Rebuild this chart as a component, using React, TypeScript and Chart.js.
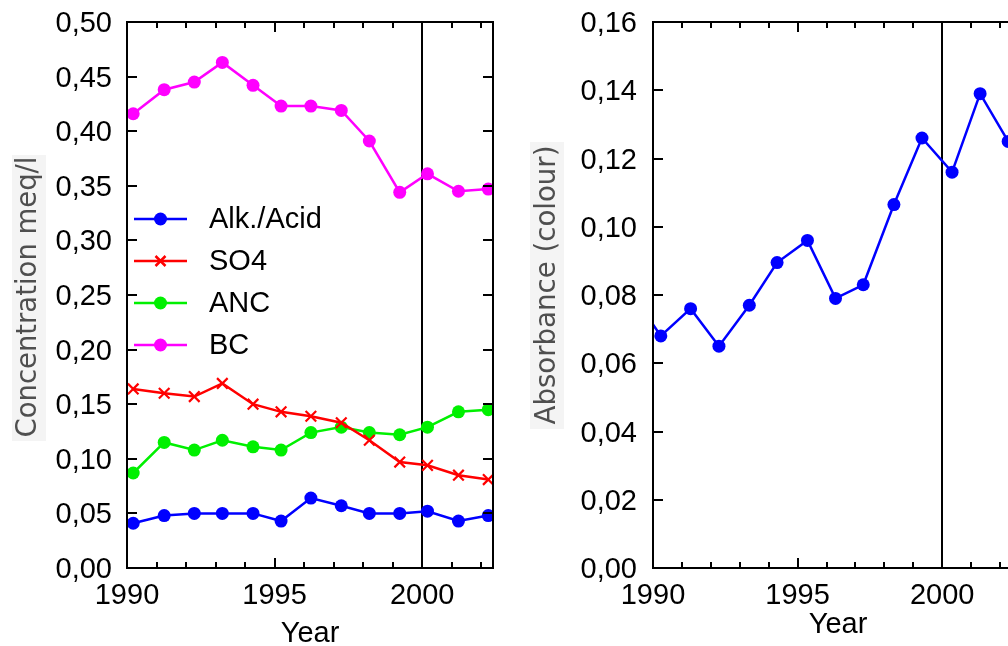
import React, { useEffect, useRef } from 'react';
import { Chart, registerables } from 'chart.js';

Chart.register(...registerables);

// ---------- data ----------
const leftYears = [1990.21, 1991.26, 1992.28, 1993.23, 1994.27, 1995.22, 1996.23, 1997.26, 1998.21, 1999.24, 2000.18, 2001.23, 2002.24];
const alkAcid = [0.041, 0.048, 0.050, 0.050, 0.050, 0.043, 0.064, 0.057, 0.050, 0.050, 0.052, 0.043, 0.048];
const so4 = [0.164, 0.160, 0.157, 0.169, 0.150, 0.143, 0.139, 0.133, 0.117, 0.097, 0.094, 0.085, 0.081];
const anc = [0.087, 0.115, 0.108, 0.117, 0.111, 0.108, 0.124, 0.129, 0.124, 0.122, 0.129, 0.143, 0.145];
const bc = [0.416, 0.438, 0.445, 0.463, 0.442, 0.423, 0.423, 0.419, 0.391, 0.344, 0.361, 0.345, 0.347];

const rightYears = [1989.3, 1990.27, 1991.3, 1992.28, 1993.33, 1994.29, 1995.34, 1996.31, 1997.27, 1998.33, 1999.3, 2000.34, 2001.31, 2002.28];
const absorbance = [0.080, 0.068, 0.076, 0.065, 0.077, 0.0895, 0.096, 0.079, 0.083, 0.1065, 0.126, 0.116, 0.139, 0.125];

const labelledYears = [1990, 1995, 2000];
const referenceYear = 2000;
const leftTitle = 'Concentration meq/l';
const rightTitle = 'Absorbance (colour)';
const xTitle = 'Year';

// ---------- helpers ----------
const FONT = '"Liberation Sans", Arial, sans-serif';
const TITLE_FONT = '"DejaVu Sans", Verdana, sans-serif';
const toXY = (xs: number[], ys: number[]) => xs.map((x, i) => ({ x, y: ys[i] }));
const comma = (v: number, d: number) => v.toFixed(d).replace('.', ',');
const isLabelled = (v: number) => labelledYears.some((y) => Math.abs(y - v) < 1e-6);

const framePlugin = {
  id: 'frame',
  beforeDatasetsDraw(chart: any) {
    const { ctx, chartArea } = chart;
    const px = Math.round(chart.scales.x.getPixelForValue(referenceYear));
    ctx.save();
    ctx.strokeStyle = '#000';
    ctx.lineWidth = 2;
    ctx.beginPath();
    ctx.moveTo(px, chartArea.top);
    ctx.lineTo(px, chartArea.bottom);
    ctx.stroke();
    ctx.restore();
  },
  afterDatasetsDraw(chart: any) {
    const { ctx, chartArea } = chart;
    const left = Math.round(chartArea.left);
    const right = Math.round(chartArea.right);
    const top = Math.round(chartArea.top);
    const bottom = Math.round(chartArea.bottom);
    const xs = chart.scales.x;
    const ys = chart.scales.y;
    ctx.save();
    ctx.strokeStyle = '#000';
    ctx.lineWidth = 2;
    ctx.strokeRect(left, top, right - left, bottom - top);
    ctx.beginPath();
    xs.ticks.forEach((t: any) => {
      const px = Math.round(xs.getPixelForValue(t.value));
      const len = Math.abs(t.value % 5) < 1e-6 ? 10 : 6;
      ctx.moveTo(px, bottom);
      ctx.lineTo(px, bottom - len);
      ctx.moveTo(px, top);
      ctx.lineTo(px, top + len);
    });
    ys.ticks.forEach((t: any) => {
      const py = Math.round(ys.getPixelForValue(t.value));
      ctx.moveTo(left, py);
      ctx.lineTo(left + 10, py);
      ctx.moveTo(right, py);
      ctx.lineTo(right - 10, py);
    });
    ctx.stroke();
    ctx.restore();
  },
};

const titlesPlugin = {
  id: 'titles',
  afterDraw(chart: any, _a: any, opts: any) {
    const ctx = chart.ctx;
    ctx.save();
    const yt = opts.yTitle;
    if (yt) {
      ctx.fillStyle = '#f4f4f4';
      ctx.fillRect(yt.box[0], yt.box[1], yt.box[2], yt.box[3]);
      ctx.font = `${yt.size}px ${TITLE_FONT}`;
      const w = ctx.measureText(yt.text).width;
      const k = yt.len / w;
      ctx.translate(yt.x, yt.y);
      ctx.rotate(-Math.PI / 2);
      ctx.scale(k, 1);
      ctx.fillStyle = '#4f4f4f';
      ctx.textAlign = 'center';
      ctx.textBaseline = 'middle';
      ctx.fillText(yt.text, 0, 0);
      ctx.setTransform(1, 0, 0, 1, 0, 0);
    }
    const xt = opts.xTitle;
    if (xt) {
      ctx.font = `${xt.size}px ${FONT}`;
      ctx.fillStyle = '#000';
      ctx.textAlign = 'center';
      ctx.textBaseline = 'alphabetic';
      ctx.fillText(xt.text, xt.x, xt.y);
    }
    ctx.restore();
  },
};

const legendPlugin = {
  id: 'inLegend',
  afterDraw(chart: any, _a: any, opts: any) {
    if (!opts || !opts.show) return;
    const ctx = chart.ctx;
    ctx.save();
    chart.data.datasets.forEach((ds: any, i: number) => {
      const y = opts.y + i * opts.gap;
      const x0 = opts.x;
      const x1 = opts.x + opts.lineLen;
      const cx = (x0 + x1) / 2;
      ctx.strokeStyle = ds.borderColor;
      ctx.lineWidth = 2.5;
      ctx.beginPath();
      ctx.moveTo(x0, y);
      ctx.lineTo(x1, y);
      ctx.stroke();
      if (ds.pointStyle === 'crossRot') {
        const r = 5;
        ctx.beginPath();
        ctx.moveTo(cx - r, y - r);
        ctx.lineTo(cx + r, y + r);
        ctx.moveTo(cx - r, y + r);
        ctx.lineTo(cx + r, y - r);
        ctx.stroke();
      } else {
        ctx.fillStyle = ds.pointBackgroundColor;
        ctx.beginPath();
        ctx.arc(cx, y, 6.5, 0, Math.PI * 2);
        ctx.fill();
      }
      ctx.fillStyle = '#000';
      ctx.font = `29px ${FONT}`;
      ctx.textAlign = 'left';
      ctx.textBaseline = 'middle';
      ctx.fillText(ds.label, opts.textX, y + 1);
    });
    ctx.restore();
  },
};

function lineDs(label: string, xs: number[], ys: number[], color: string, style: string = 'circle') {
  return {
    label,
    data: toXY(xs, ys),
    borderColor: color,
    backgroundColor: color,
    pointBackgroundColor: color,
    pointBorderColor: color,
    borderWidth: 2.5,
    pointStyle: style,
    pointRadius: style === 'crossRot' ? 7.5 : 6.5,
    pointBorderWidth: style === 'crossRot' ? 2.2 : 0,
    tension: 0,
    fill: false,
  };
}

function makeOptions(cfg: any) {
  return {
    responsive: false,
    animation: false,
    events: [],
    layout: { padding: { top: 22, right: 17, left: 0, bottom: 0 } },
    plugins: {
      legend: { display: false },
      tooltip: { enabled: false },
      titles: { yTitle: cfg.yTitle, xTitle: cfg.xTitle },
      inLegend: cfg.legend || { show: false },
    },
    scales: {
      x: {
        type: 'linear',
        min: 1990,
        max: cfg.xMax,
        grid: { display: false, drawTicks: false },
        border: { display: false },
        ticks: {
          stepSize: 1,
          includeBounds: false,
          autoSkip: false,
          maxRotation: 0,
          padding: 11,
          color: '#000',
          font: { size: 29, family: FONT },
          callback: (v: number) => (isLabelled(v) ? String(Math.round(v)) : ''),
        },
        afterFit: (s: any) => {
          s.height = 78;
          s.paddingLeft = 0;
          s.paddingRight = 0;
        },
      },
      y: {
        type: 'linear',
        min: 0,
        max: cfg.yMax,
        grid: { display: false, drawTicks: false },
        border: { display: false },
        ticks: {
          stepSize: cfg.yStep,
          padding: cfg.yPad,
          color: '#000',
          labelOffset: 2,
          font: { size: 29, family: FONT },
          callback: (v: number) => comma(v, 2),
        },
        afterFit: (s: any) => {
          s.width = cfg.yWidth;
          s.paddingTop = 0;
          s.paddingBottom = 0;
        },
      },
    },
  };
}

export default function App() {
  const leftRef = useRef<HTMLCanvasElement>(null);
  const rightRef = useRef<HTMLCanvasElement>(null);

  useEffect(() => {
    const left = new Chart(leftRef.current as HTMLCanvasElement, {
      type: 'line',
      data: {
        datasets: [
          lineDs('Alk./Acid', leftYears, alkAcid, '#0000ff'),
          lineDs('SO4', leftYears, so4, '#ff0000', 'crossRot'),
          lineDs('ANC', leftYears, anc, '#00f000'),
          lineDs('BC', leftYears, bc, '#ff00ff'),
        ] as any,
      },
      options: makeOptions({
        xMax: 2002.4,
        yMax: 0.5,
        yStep: 0.05,
        yPad: 15,
        yWidth: 127,
        yTitle: { text: leftTitle, x: 28, y: 297, size: 29, len: 281, box: [12, 155, 34, 286] },
        xTitle: { text: xTitle, x: 310, y: 642, size: 29 },
        legend: { show: true, x: 134, y: 219, gap: 42, lineLen: 53, textX: 209 },
      }) as any,
      plugins: [framePlugin, titlesPlugin, legendPlugin],
    });
    const right = new Chart(rightRef.current as HTMLCanvasElement, {
      type: 'line',
      data: {
        datasets: [lineDs('Absorbance', rightYears, absorbance, '#0000ff')] as any,
      },
      options: makeOptions({
        xMax: 2002.62,
        yMax: 0.16,
        yStep: 0.02,
        yPad: 16,
        yWidth: 133,
        yTitle: { text: rightTitle, x: 27, y: 285, size: 29, len: 279, box: [10, 142, 34, 287] },
        xTitle: { text: xTitle, x: 318, y: 633, size: 29 },
      }) as any,
      plugins: [framePlugin, titlesPlugin],
    });
    return () => {
      left.destroy();
      right.destroy();
    };
  }, []);

  return (
    <div style={{ position: 'fixed', left: 0, top: 0, width: 1008, height: 646, overflow: 'hidden', background: '#fff' }}>
      <canvas ref={leftRef} width={510} height={646} style={{ position: 'absolute', left: 0, top: 0, width: 510, height: 646 }} />
      <canvas ref={rightRef} width={515} height={646} style={{ position: 'absolute', left: 520, top: 0, width: 515, height: 646 }} />
    </div>
  );
}
